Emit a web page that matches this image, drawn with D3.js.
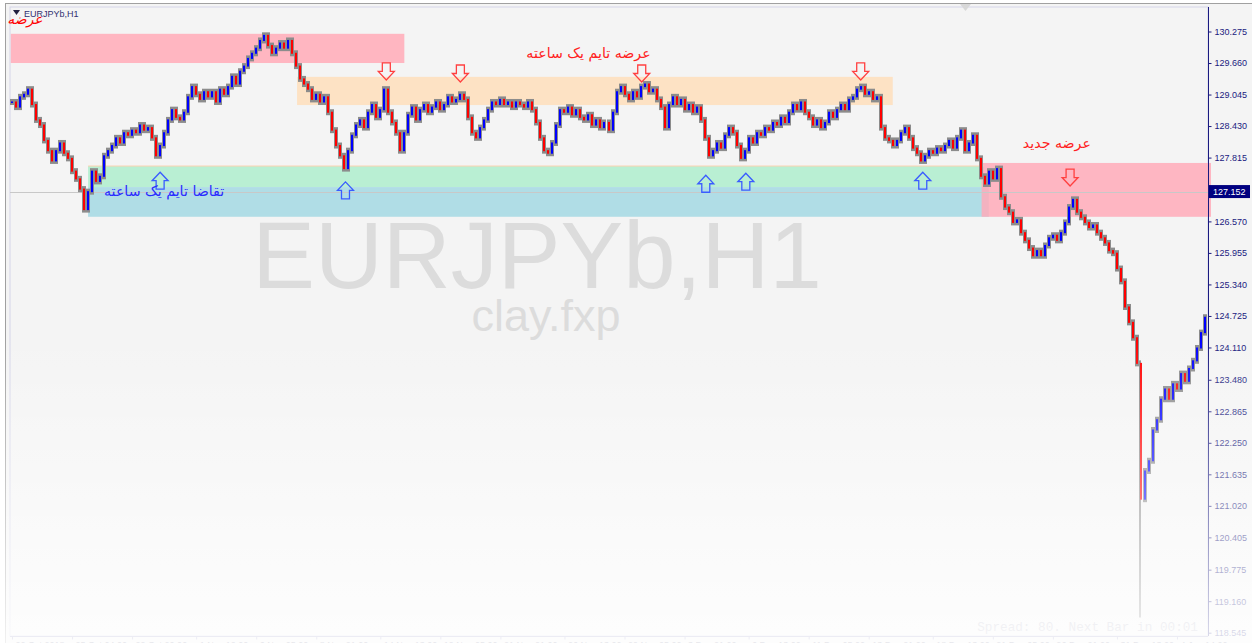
<!DOCTYPE html>
<html>
<head>
<meta charset="utf-8">
<script src="https://cdn.jsdelivr.net/npm/d3@7"></script>
<style>
  body { margin: 0; background: #fff; }
  svg { display: block; }
</style>
</head>
<body>
<svg id="chart" width="1252" height="643"></svg>
<script>
// hourly closes (one value every few bars)
const closes = [
  128.90,128.80,129.00,129.05,129.15,128.85,128.55,128.45,128.15,127.95,
  127.75,127.95,128.10,127.90,127.80,127.55,127.40,127.20,126.80,127.15,
  127.55,127.35,127.45,127.85,127.95,128.05,128.20,128.10,128.30,128.25,
  128.35,128.30,128.45,128.35,128.40,128.20,127.85,128.05,128.30,128.55,
  128.75,128.60,128.55,128.70,129.00,129.20,129.05,128.95,129.10,129.00,
  129.10,128.90,129.15,129.05,129.20,129.40,129.25,129.50,129.60,129.75,
  129.85,129.95,130.10,130.20,130.00,129.85,129.95,130.05,129.95,130.10,
  129.85,129.60,129.35,129.25,129.15,128.95,129.05,128.90,129.00,128.70,
  128.35,128.05,127.85,127.60,127.95,128.25,128.45,128.55,128.40,128.70,
  128.85,128.60,128.75,129.15,128.70,128.50,128.30,127.95,128.30,128.65,
  128.80,128.55,128.75,128.85,128.70,128.80,128.90,128.75,128.85,129.00,
  128.90,128.95,129.05,128.95,128.60,128.30,128.20,128.40,128.55,128.75,
  128.90,128.85,128.95,128.85,128.90,128.80,128.90,128.85,128.80,128.90,
  128.75,128.50,128.20,127.95,127.90,128.10,128.45,128.75,128.70,128.80,
  128.65,128.75,128.60,128.55,128.65,128.45,128.55,128.40,128.50,128.35,
  128.70,129.10,129.20,129.05,128.95,129.10,129.00,129.20,129.25,129.10,
  129.15,128.95,128.80,128.40,128.85,129.00,128.85,128.95,128.75,128.85,
  128.70,128.80,128.55,128.20,127.85,127.95,128.10,128.00,128.25,128.40,
  128.30,128.05,127.80,127.95,128.20,128.10,128.30,128.25,128.40,128.35,
  128.50,128.45,128.60,128.50,128.70,128.85,128.75,128.90,128.70,128.60,
  128.45,128.55,128.40,128.50,128.70,128.60,128.75,128.85,128.75,128.95,
  129.00,129.15,129.20,129.05,129.10,128.95,129.00,128.40,128.20,128.15,
  128.05,128.15,128.30,128.40,128.20,128.00,127.90,127.75,127.85,127.95,
  127.90,128.00,127.95,128.05,128.15,128.00,128.20,128.35,127.95,128.10,
  128.25,127.80,127.45,127.30,127.55,127.40,127.60,127.05,126.85,126.75,
  126.55,126.60,126.35,126.20,126.05,125.90,126.00,125.90,126.10,126.25,
  126.30,126.20,126.35,126.55,126.85,127.00,126.75,126.65,126.55,126.45,
  126.50,126.35,126.25,126.15,126.00,125.95,125.65,125.40,124.90,124.60,
  124.30,123.80,121.15,121.70,121.90,122.50,122.70,123.10,123.30,123.10,
  123.40,123.30,123.60,123.45,123.70,123.85,124.10,124.40,124.70
];
// single bars whose low runs far below the body
const spikeIdx = [282];
const spikeLow = [118.90];

const priceTicks = [130.275,129.660,129.045,128.430,127.815,126.570,125.955,125.340,
  124.725,124.110,123.480,122.865,122.250,121.635,121.020,120.405,119.775,119.160,118.545];
const lastPrice = 127.152;

const timeTickIdx = [0,15,30,46,61,76,92,107,122,138,153,168,184,199,214,230,245,260,276,291];
const timeLabels = ['22 Oct 2018','25 Oct 04:00','29 Oct 20:00','1 Nov 12:00','6 Nov 05:00',
  '8 Nov 21:00','14 Nov 13:00','19 Nov 05:00','21 Nov 21:00','26 Nov 13:00','29 Nov 05:00',
  '3 Dec 21:00','6 Dec 13:00','11 Dec 05:00','13 Dec 21:00','18 Dec 13:00','21 Dec 05:00',
  '26 Dec 21:00','31 Dec 13:00','4 Jan 14:00'];

// drawn zones: [fromIdx, toIdx, topPrice, bottomPrice, colour]
const zones = [
  [-0.3, 98, 130.23, 129.66, '#ffb6c1'],
  [71.2, 220, 129.39, 128.84, '#fde2c4'],
  [19, 242.8, 127.65, 127.24, '#b9efd3'],
  [19, 244, 127.24, 126.66, '#b0dde6'],
  [242.2, 299.5, 127.71, 126.66, 'rgba(255,170,185,0.85)']
];
// arrows: [idx, tipPrice]
const downArrows = [[93.5,129.33],[112,129.29],[157.3,129.29],[212,129.33],[264.3,127.26]];
const upArrows = [[37,127.53],[83.3,127.34],[173.3,127.47],[183.3,127.51],[227.5,127.53]];
// notes: [idx, price, text, colour]
const notes = [
  [144, 129.75, 'عرضه تایم یک ساعته', '#ff2020'],
  [38, 127.07, 'تقاضا تایم یک ساعته', '#2a2aff'],
  [261, 128.00, 'عرضه جدید', '#ff2020']
];

const W = 1252, H = 643;
const plotL = 10, plotR = 1208, plotT = 7, plotB = 636;

const svg = d3.select('svg#chart');
const x = d3.scaleLinear().domain([0, closes.length - 1]).range([12, 1205]);
const y = d3.scaleLinear().domain([118.545, 130.275]).range([632.7, 31.5]);

// frame + background
svg.append('rect').attr('x', 0).attr('y', 0).attr('width', W).attr('height', H).attr('fill', '#ffffff');
svg.append('rect').attr('x', 5.5).attr('y', 3.5).attr('width', W).attr('height', H)
  .attr('fill', '#f4f4f4').attr('stroke', '#a0a0a0');
svg.append('rect').attr('x', plotL).attr('y', plotT).attr('width', plotR - plotL).attr('height', plotB - plotT)
  .attr('fill', '#f4f4f4').attr('stroke', '#d4d4e8');

const g = svg.append('g');

// watermark
g.append('text').attr('x', 537).attr('y', 288).attr('text-anchor', 'middle')
  .style('font', '94px "Liberation Sans", Arial, sans-serif').attr('fill', '#dcdcdc').text('EURJPYb,H1');
g.append('text').attr('x', 546).attr('y', 331).attr('text-anchor', 'middle')
  .style('font', '45px "Liberation Sans", Arial, sans-serif').attr('fill', '#dcdcdc').text('clay.fxp');

// zones
g.selectAll('rect.zone').data(zones).enter().append('rect')
  .attr('class', 'zone')
  .attr('x', d => x(d[0]))
  .attr('y', d => y(d[2]))
  .attr('width', d => x(d[1]) - x(d[0]))
  .attr('height', d => y(d[3]) - y(d[2]))
  .attr('fill', d => d[4]);
g.append('line').attr('x1', x(19)).attr('x2', x(242.8))
  .attr('y1', y(127.65)).attr('y2', y(127.65)).attr('stroke', '#fbd3b0');

// last price line
g.append('line').attr('x1', plotL).attr('x2', plotR)
  .attr('y1', Math.round(y(lastPrice)) + 0.5).attr('y2', Math.round(y(lastPrice)) + 0.5)
  .attr('stroke', '#c8c8c8');

// candles
const bars = closes.map((c, i) => {
  const o = i ? closes[i - 1] : c;
  const k = spikeIdx.indexOf(i);
  return { i, o, c, lo: k >= 0 ? spikeLow[k] : Math.min(o, c), hi: Math.max(o, c) };
});
const pad = 3;
g.selectAll('rect.wick').data(bars).enter().append('rect')
  .attr('class', 'wick')
  .attr('x', d => Math.round(x(d.i)) - 2)
  .attr('width', d => spikeIdx.includes(d.i) ? 2 : 4)
  .attr('y', d => y(d.hi) - pad)
  .attr('height', d => y(d.lo) - y(d.hi) + 2 * pad)
  .attr('fill', '#8c8c8c');
g.selectAll('rect.body').data(bars).enter().append('rect')
  .attr('class', 'body')
  .attr('x', d => Math.round(x(d.i)) - 1)
  .attr('y', d => y(Math.max(d.o, d.c)) - 0.5)
  .attr('width', 2)
  .attr('height', d => Math.max(1.5, Math.abs(y(d.o) - y(d.c)) + 1))
  .attr('fill', d => d.c >= d.o ? '#0000ff' : '#ff0000');

// arrows
const arrowPath = (w, h) => {
  const hw = w / 2, sw = w / 4, sh = h / 2;
  return `M${-sw},0 L${sw},0 L${sw},${sh} L${hw},${sh} L0,${h} L${-hw},${sh} L${-sw},${sh} Z`;
};
g.selectAll('path.down').data(downArrows).enter().append('path')
  .attr('class', 'down')
  .attr('transform', d => `translate(${x(d[0])},${y(d[1]) - 17})`)
  .attr('d', arrowPath(16, 17))
  .attr('fill', 'none').attr('stroke', '#ff4040').attr('stroke-width', 1.3);
g.selectAll('path.up').data(upArrows).enter().append('path')
  .attr('class', 'up')
  .attr('transform', d => `translate(${x(d[0])},${y(d[1]) + 17}) scale(1,-1)`)
  .attr('d', arrowPath(16, 17))
  .attr('fill', 'none').attr('stroke', '#3a5cff').attr('stroke-width', 1.3);

// notes
g.selectAll('text.note').data(notes).enter().append('text')
  .attr('class', 'note')
  .attr('x', d => x(d[0])).attr('y', d => y(d[1]))
  .attr('text-anchor', 'middle').attr('direction', 'rtl')
  .style('font', '14.2px "DejaVu Sans", sans-serif')
  .attr('fill', d => d[3]).text(d => d[2]);

// title
g.append('path').attr('d', 'M13,10 L20,10 L16.5,15 Z').attr('fill', '#202040');
g.append('text').attr('x', 24).attr('y', 17)
  .style('font', '9px "Liberation Sans", Arial, sans-serif').attr('fill', '#303070').text('EURJPYb,H1');
g.append('text').attr('x', 25).attr('y', 24).attr('text-anchor', 'middle')
  .style('font', 'italic 14px "DejaVu Sans", sans-serif').attr('fill', '#ff0000').text('عرضه');

// shift marker
g.append('path').attr('d', 'M960,4 L971,4 L965.5,11 Z').attr('fill', '#d8d8d8');

// price axis
const yAxis = d3.axisRight(y).tickValues(priceTicks).tickFormat(d3.format('.3f')).tickSize(3).tickPadding(3);
const ya = svg.append('g').attr('transform', `translate(${plotR + 0.5},0)`).call(yAxis);
ya.select('.domain').attr('stroke', '#1a1a80').attr('d', `M0,${plotT}V${plotB}`);
ya.selectAll('.tick line').attr('stroke', '#1a1a80');
ya.selectAll('.tick text').attr('fill', '#1a1a80')
  .style('font', '9px "Liberation Sans", Arial, sans-serif');

// last price label
const ly = y(lastPrice);
svg.append('rect').attr('x', plotR + 1).attr('y', ly - 6.5).attr('width', 41).attr('height', 13).attr('fill', '#000080');
svg.append('text').attr('x', plotR + 5).attr('y', ly + 3.5).attr('fill', '#ffffff')
  .style('font', '9px "Liberation Sans", Arial, sans-serif').text(lastPrice.toFixed(3));

// time axis
const xAxis = d3.axisBottom(x).tickValues(timeTickIdx).tickFormat((d, i) => timeLabels[i]).tickSize(3).tickPadding(2);
const xa = svg.append('g').attr('transform', `translate(0,${plotB + 0.5})`).call(xAxis);
xa.select('.domain').attr('stroke', '#9090c0').attr('d', `M${plotL},0H${plotR}`);
xa.selectAll('.tick line').attr('stroke', '#9090c0');
xa.selectAll('.tick text').attr('fill', '#606080').attr('text-anchor', 'start').attr('dx', 3)
  .style('font', '9px "Liberation Sans", Arial, sans-serif');

// spread info
svg.append('text').attr('x', 1198).attr('y', 631).attr('text-anchor', 'end')
  .style('font', '12.7px "Liberation Mono", "DejaVu Sans Mono", monospace').attr('fill', '#b8b8c8')
  .text('Spread: 80. Next Bar in 00:01');

// fade toward the bottom
const grad = svg.append('defs').append('linearGradient').attr('id', 'fade')
  .attr('x1', 0).attr('y1', 0).attr('x2', 0).attr('y2', 1);
grad.append('stop').attr('offset', '0.52').attr('stop-color', '#fff').attr('stop-opacity', 0);
grad.append('stop').attr('offset', '1').attr('stop-color', '#fff').attr('stop-opacity', 0.85);
svg.append('rect').attr('x', 0).attr('y', 0).attr('width', W).attr('height', H).attr('fill', 'url(#fade)');
</script>
</body>
</html>
